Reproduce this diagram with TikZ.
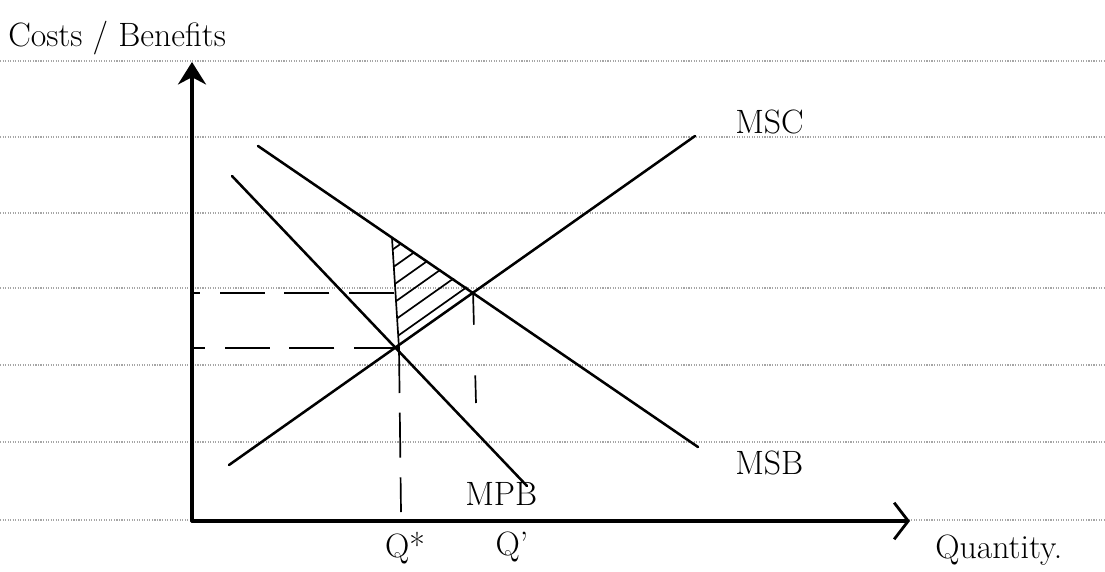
\documentclass[tikz,border=0pt]{standalone}
\usetikzlibrary{arrows.meta}

\begin{document}
\begin{tikzpicture}[
		x=0.025cm, y=-0.025cm,
		% Style for the ruled paper lines
		ruled/.style={gray!70, line width=0.8pt, densely dotted},
		% Axes and curves
		axis line/.style={line width=2.2pt, line cap=round},
		curve/.style={line width=1.8pt, line cap=round},
		guide/.style={line width=1.2pt, dash pattern=on 32pt off 14pt},
		hatch/.style={line width=1.2pt},
		curve label/.style={font=\fontsize{24}{26}\selectfont, inner sep=0pt}
		]
		
		\useasboundingbox (0,0) rectangle (1105,572);
		
		% ==============================================================================
		% 1. RULED PAPER
		% ==============================================================================
		\foreach \ry in {61,137,213,288,365,442,520} {
			\draw[ruled] (0,\ry) -- (1105,\ry);
		}
		
		% ==============================================================================
		% 2. AXES
		% ==============================================================================
		\coordinate (origin) at (192,521);
		\coordinate (ytop) at (192,62);
		\coordinate (xend) at (910,521);
		\draw[axis line, -{Stealth[length=16pt, width=20pt]}] (origin) -- (ytop);
		\draw[axis line, -{Straight Barb[length=10pt, width=26pt, line width=2pt]}] (origin) -- (xend);
		
		\node[curve label, anchor=west] (ylabel) at (8,38) {Costs / Benefits};
		\node[curve label, anchor=west] (xlabel) at (935,550) {Quantity.};
		
		% ==============================================================================
		% 3. CURVES
		% ==============================================================================
		\coordinate (msc-a) at (229,465);
		\coordinate (msc-b) at (695,136);
		\coordinate (msb-a) at (258,146);
		\coordinate (msb-b) at (698,447);
		\coordinate (mpb-a) at (232,176);
		\coordinate (mpb-b) at (527,486);
		\draw[curve] (msc-a) -- (msc-b);
		\draw[curve] (msb-a) -- (msb-b);
		\draw[curve] (mpb-a) -- (mpb-b);
		
		\node[curve label, anchor=west] (msc) at (735,122) {MSC};
		\node[curve label, anchor=west] (msb) at (735,463) {MSB};
		\node[curve label, anchor=west] (mpb) at (465,494) {MPB};
		
		% ==============================================================================
		% 4. EQUILIBRIA AND GUIDES
		% ==============================================================================
		\coordinate (eq-star) at (399,348);
		\coordinate (eq-one) at (473,291);
		\coordinate (wl-top) at (392,238);
		\coordinate (wl-mid) at (394,293);
		\coordinate (q-star) at (401,512);
		\coordinate (q-one) at (476,403);
		\coordinate (p-star) at (194,348);
		\coordinate (p-one) at (194,293);
		
		\draw[guide] (eq-star) -- (p-star);
		\draw[guide] (wl-mid) -- (p-one);
		\draw[guide] (eq-star) -- (q-star);
		\draw[guide, dash pattern=on 24pt off 36pt on 20pt off 40pt] (eq-one) -- (q-one);
		
		\node[curve label, anchor=north] (qstar) at (405,532) {Q*};
		\node[curve label, anchor=north] (qone) at (512,532) {Q'};
		
		% ==============================================================================
		% 5. WELFARE LOSS TRIANGLE
		% ==============================================================================
		\draw[hatch] (wl-top) -- (eq-star);
		\begin{scope}
			\clip (wl-top) -- (eq-one) -- (eq-star) -- cycle;
			\foreach \hy in {250,268,...,340} {
				\draw[hatch] (392,\hy) -- ++(140,-99);
			}
		\end{scope}
	\end{tikzpicture}
\end{document}
